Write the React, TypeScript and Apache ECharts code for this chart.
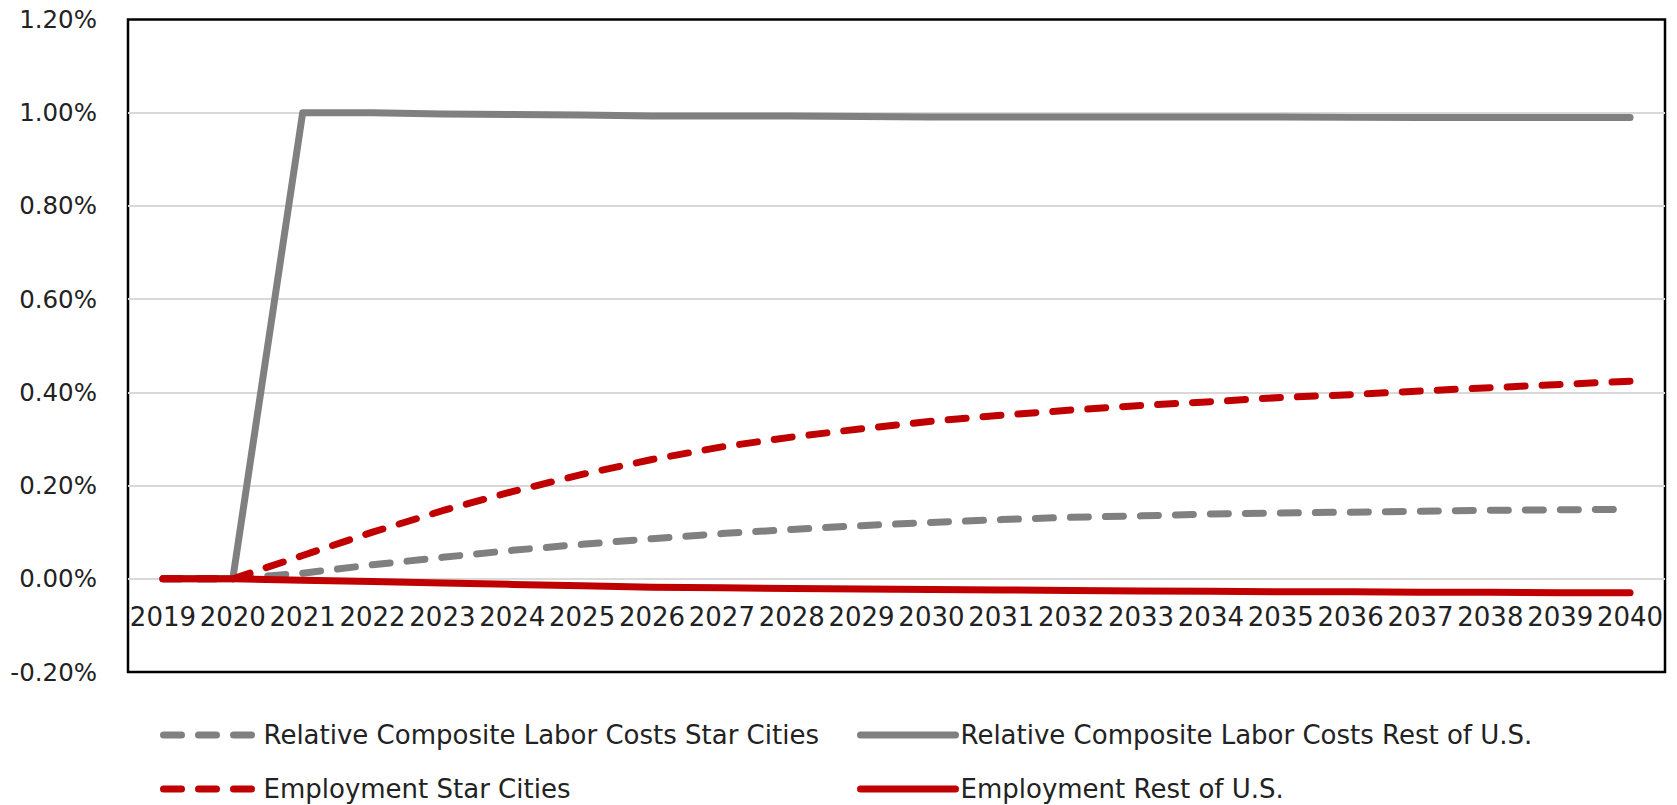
import React, { useEffect, useRef } from "react";
import * as echarts from "echarts";

const years = [
  "2019", "2020", "2021", "2022", "2023", "2024", "2025", "2026", "2027", "2028", "2029",
  "2030", "2031", "2032", "2033", "2034", "2035", "2036", "2037", "2038", "2039", "2040",
];

const laborStar = [
  0, 0, 0.012, 0.03, 0.046, 0.061, 0.074, 0.086, 0.097, 0.106, 0.114,
  0.121, 0.127, 0.132, 0.135, 0.139, 0.141, 0.143, 0.145, 0.147, 0.148, 0.149,
];
const laborRest = [
  0, 0, 1.0, 1.0, 0.997, 0.996, 0.995, 0.993, 0.993, 0.993, 0.992,
  0.991, 0.991, 0.991, 0.991, 0.991, 0.991, 0.99, 0.99, 0.99, 0.99, 0.99,
];
const empStar = [
  0, 0, 0.05, 0.1, 0.146, 0.187, 0.224, 0.256, 0.283, 0.304, 0.322,
  0.338, 0.351, 0.362, 0.372, 0.38, 0.389, 0.395, 0.403, 0.41, 0.417, 0.424,
];
const empRest = [
  0, 0, -0.003, -0.006, -0.009, -0.012, -0.015, -0.018, -0.019, -0.021, -0.022,
  -0.023, -0.024, -0.025, -0.026, -0.027, -0.028, -0.028, -0.029, -0.029, -0.03, -0.03,
];

const names = [
  "Relative Composite Labor Costs Star Cities",
  "Relative Composite Labor Costs Rest of U.S.",
  "Employment Star Cities",
  "Employment Rest of U.S.",
];

const GRAY = "#808080";
const RED = "#C00000";
const FONT = "DejaVu Sans";
const DASH = [18, 17];

export default function App() {
  const ref = useRef<HTMLDivElement>(null);
  useEffect(() => {
    if (!ref.current) return;
    const chart = echarts.init(ref.current, null, { renderer: "svg" });
    const mkSeries = (name: string, data: number[], color: string, dashed: boolean) => ({
      name,
      type: "line",
      data,
      symbol: "none",
      z: 3,
      lineStyle: {
        color,
        width: 7,
        type: dashed ? DASH : "solid",
        cap: "round",
        join: "round",
      },
      itemStyle: { color },
    });
    const legendText = { fontFamily: FONT, fontSize: 26, color: "#222" };
    const mkLegend = (name: string, left: number, top: number, color: string, dashed: boolean) => ({
      data: [name],
      left,
      top,
      itemWidth: 95,
      itemHeight: 14,
      itemGap: 11,
      textStyle: legendText,
      selectedMode: false,
      padding: 0,
      itemStyle: { opacity: 0 },
      lineStyle: {
        width: 7,
        color,
        type: dashed ? DASH : "solid",
        cap: "round",
      },
    });
    chart.setOption({
      animation: false,
      backgroundColor: "#fff",
      grid: {
        left: 128,
        right: 12,
        top: 19.5,
        bottom: 133,
        show: true,
        borderColor: "#000",
        borderWidth: 2.5,
        backgroundColor: "transparent",
      },
      legend: [
        mkLegend(names[0], 160, 722, GRAY, true),
        mkLegend(names[1], 857, 722, GRAY, false),
        mkLegend(names[2], 160, 776, RED, true),
        mkLegend(names[3], 857, 776, RED, false),
      ],
      xAxis: {
        type: "category",
        data: years,
        boundaryGap: true,
        axisLine: { show: false, onZero: false },
        axisTick: { show: false },
        axisLabel: {
          interval: 0,
          margin: -68.5,
          fontFamily: FONT,
          fontSize: 26,
          color: "#222",
        },
        splitLine: { show: false },
      },
      yAxis: {
        type: "value",
        min: -0.2,
        max: 1.2,
        interval: 0.2,
        axisLine: { show: false },
        axisTick: { show: false },
        axisLabel: {
          margin: 31,
          fontFamily: FONT,
          fontSize: 24.5,
          color: "#222",
          formatter: (v: number) => v.toFixed(2) + "%",
        },
        splitLine: {
          show: true,
          showMinLine: false,
          showMaxLine: false,
          lineStyle: { color: "#D9D9D9", width: 2 },
        },
      },
      series: [
        mkSeries(names[0], laborStar, GRAY, true),
        mkSeries(names[1], laborRest, GRAY, false),
        mkSeries(names[2], empStar, RED, true),
        mkSeries(names[3], empRest, RED, false),
      ],
    });
    return () => chart.dispose();
  }, []);
  return (
    <div
      ref={ref}
      style={{ position: "fixed", left: 0, top: 0, width: 1677, height: 805 }}
    />
  );
}
